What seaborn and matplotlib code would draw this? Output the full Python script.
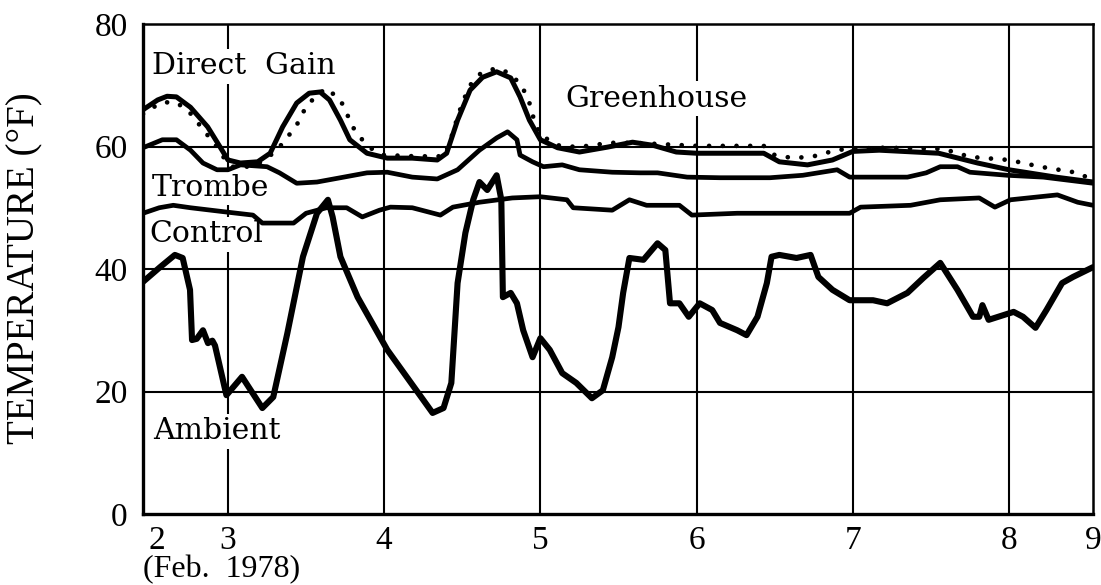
import matplotlib
matplotlib.use("Agg")
import matplotlib.pyplot as plt
import seaborn as sns

# --- Temperatures, Feb. 1978 (day of month, deg F) ---
direct_gain_day = [2.456, 2.55, 2.61, 2.67, 2.76, 2.87, 2.95, 3.0, 3.08, 3.19, 3.27, 3.35,
                   3.44, 3.52, 3.59, 3.65, 3.72, 3.78, 3.89, 4.02, 4.18, 4.34, 4.40, 4.47,
                   4.55, 4.63, 4.72, 4.81, 4.87, 4.93, 5.0, 5.11, 5.25, 5.43, 5.59, 5.72,
                   5.87, 6.0, 6.26, 6.43, 6.53, 6.71, 6.87, 7.0, 7.17, 7.55, 7.8, 8.0,
                   8.3, 8.538]
direct_gain_temp = [66.0, 67.6, 68.2, 68.1, 66.4, 63.2, 59.9, 57.8, 57.3, 57.5, 58.9, 63.2,
                    67.1, 68.7, 68.9, 67.6, 64.3, 61.1, 58.9, 58.1, 58.1, 57.8, 58.9, 64.3,
                    69.2, 71.3, 72.2, 71.2, 68.1, 64.3, 61.1, 59.8, 59.1, 59.9, 60.7, 60.2,
                    59.1, 58.9, 58.9, 58.9, 57.5, 57.0, 57.8, 59.2, 59.4, 58.9, 57.3, 56.2,
                    55.0, 54.2]

greenhouse_day = [2.456, 2.565, 2.65, 2.714, 2.78, 2.84, 2.906, 2.97, 3.03, 3.12, 3.2, 3.29,
                  3.35, 3.44, 3.50, 3.57, 3.63, 3.72, 3.76, 3.81, 3.86, 3.93, 4.0, 4.2,
                  4.38, 4.42, 4.45, 4.50, 4.55, 4.62, 4.72, 4.80, 4.88, 4.93, 4.96, 5.0,
                  5.11, 5.24, 5.45, 5.6, 6.0, 6.43, 6.5, 6.62, 6.75, 6.85, 6.95, 7.2,
                  7.58, 7.75, 8.0, 8.2, 8.44, 8.538]
greenhouse_temp = [65.3, 67.1, 67.3, 66.5, 64.9, 62.7, 60.8, 58.3, 56.7, 56.7, 57.3, 58.9,
                   60.5, 63.5, 66.5, 68.4, 69.5, 67.6, 65.4, 62.7, 61.1, 59.4, 58.6, 58.4,
                   58.4, 60.6, 63.2, 67.1, 70.0, 72.0, 72.8, 72.0, 70.0, 67.1, 64.3, 61.9,
                   60.2, 59.9, 60.6, 60.6, 60.1, 60.1, 58.6, 58.1, 58.4, 59.1, 59.6, 59.8,
                   59.6, 58.3, 57.8, 56.7, 55.7, 54.5]

trombe_day = [2.456, 2.58, 2.67, 2.76, 2.84, 2.93, 3.0, 3.08, 3.25, 3.33, 3.44, 3.57,
              3.72, 3.89, 4.02, 4.18, 4.34, 4.47, 4.61, 4.72, 4.79, 4.85, 4.87, 4.95,
              5.02, 5.14, 5.25, 5.46, 5.64, 5.75, 5.94, 6.15, 6.47, 6.68, 6.90, 6.98,
              7.17, 7.35, 7.47, 7.56, 7.67, 7.75, 7.99, 8.22, 8.538]
trombe_temp = [59.8, 61.1, 61.1, 59.4, 57.3, 56.2, 56.2, 57.0, 56.7, 55.7, 54.0, 54.2,
               54.9, 55.7, 55.8, 55.0, 54.7, 56.2, 59.4, 61.4, 62.4, 61.1, 58.6, 57.5,
               56.7, 57.0, 56.2, 55.8, 55.7, 55.7, 55.0, 54.9, 54.9, 55.3, 56.2, 55.0,
               55.0, 55.0, 55.7, 56.7, 56.7, 55.8, 55.3, 55.0, 54.0]

control_day = [2.456, 2.56, 2.65, 2.76, 2.99, 3.16, 3.22, 3.42, 3.50, 3.63, 3.76, 3.86,
               3.97, 4.04, 4.18, 4.36, 4.44, 4.61, 4.82, 5.0, 5.17, 5.21, 5.46, 5.57,
               5.68, 5.89, 5.97, 6.26, 6.58, 6.98, 7.05, 7.37, 7.56, 7.81, 7.91, 8.01,
               8.31, 8.44, 8.538]
control_temp = [49.1, 50.0, 50.4, 50.0, 49.3, 48.8, 47.5, 47.5, 49.1, 50.0, 50.0, 48.5,
                49.6, 50.1, 50.0, 48.8, 50.1, 50.9, 51.6, 51.8, 51.3, 50.0, 49.6, 51.3,
                50.4, 50.4, 48.8, 49.1, 49.1, 49.1, 50.1, 50.4, 51.3, 51.6, 50.1, 51.3,
                52.1, 50.9, 50.4]

ambient_day = [2.456, 2.565, 2.66, 2.71, 2.757, 2.77, 2.80, 2.84, 2.872, 2.90, 2.917, 2.99,
               3.09, 3.22, 3.29, 3.38, 3.48, 3.57, 3.64, 3.67, 3.72, 3.83, 4.02, 4.31,
               4.38, 4.43, 4.47, 4.52, 4.57, 4.61, 4.66, 4.72, 4.75, 4.76, 4.81, 4.85,
               4.89, 4.95, 5.0, 5.06, 5.14, 5.23, 5.33, 5.40, 5.46, 5.50, 5.53, 5.57,
               5.66, 5.75, 5.80, 5.83, 5.89, 5.95, 6.02, 6.10, 6.15, 6.26, 6.32, 6.39,
               6.45, 6.48, 6.53, 6.64, 6.73, 6.78, 6.87, 6.98, 7.13, 7.22, 7.35, 7.45,
               7.56, 7.67, 7.77, 7.81, 7.83, 7.87, 8.03, 8.09, 8.17, 8.24, 8.34, 8.41,
               8.538]
ambient_temp = [37.9, 40.3, 42.3, 41.8, 36.6, 28.4, 28.6, 30.0, 27.9, 28.3, 27.5, 19.4,
                22.4, 17.3, 19.1, 29.5, 42.0, 49.1, 51.3, 48.5, 42.0, 35.4, 26.8, 16.5,
                17.3, 21.4, 37.7, 45.9, 51.3, 54.2, 52.9, 55.3, 51.3, 35.4, 36.1, 34.4,
                30.0, 25.6, 28.7, 26.8, 23.0, 21.4, 18.9, 20.2, 25.6, 30.5, 36.1, 41.8,
                41.5, 44.2, 43.1, 34.4, 34.4, 32.2, 34.4, 33.3, 31.2, 30.0, 29.2, 32.2,
                37.7, 42.0, 42.3, 41.8, 42.3, 38.7, 36.6, 34.9, 34.9, 34.4, 36.1, 38.5,
                41.0, 36.6, 32.2, 32.2, 34.1, 31.7, 33.0, 32.2, 30.4, 33.3, 37.7, 38.7,
                40.3]

# axis and labels
day_range = (2.456, 8.538)
day_tick_pos = [2.546, 3, 4, 5, 6, 7, 8, 8.538]
day_tick_labels = ["2", "3", "4", "5", "6", "7", "8", "9"]
day_grid = [3, 4, 5, 6, 7, 8]
temp_ticks = [0, 20, 40, 60, 80]
temp_grid = [20, 40, 60]

series_labels = ["Direct  Gain", "Greenhouse", "Trombe", "Control", "Ambient"]
label_day = [2.513, 5.157, 2.513, 2.50, 2.52]
label_temp = [73.1, 67.8, 53.3, 45.7, 13.5]

sns.set_style("white")
plt.rcParams["font.family"] = ["Liberation Serif", "DejaVu Serif"]
plt.rcParams["text.color"] = "black"
plt.rcParams["xtick.color"] = "black"
plt.rcParams["ytick.color"] = "black"

fig = plt.figure(figsize=(11.01, 5.85), dpi=100)
ax = fig.add_axes([143 / 1101, 1 - 514 / 585, (1093 - 143) / 1101, 490 / 585])

# light grid drawn under everything
for d in day_grid:
    ax.axvline(d, color="black", lw=1.5, zorder=0.5)
for t in temp_grid:
    ax.axhline(t, color="black", lw=1.5, zorder=0.5)

line_kw = dict(color="black", estimator=None, sort=False, legend=False,
               solid_joinstyle="round", solid_capstyle="round")
sns.lineplot(x=direct_gain_day, y=direct_gain_temp, ax=ax, lw=3.6, zorder=3, **line_kw)
sns.lineplot(x=trombe_day, y=trombe_temp, ax=ax, lw=3.4, zorder=3, **line_kw)
sns.lineplot(x=control_day, y=control_temp, ax=ax, lw=3.4, zorder=3, **line_kw)
sns.lineplot(x=ambient_day, y=ambient_temp, ax=ax, lw=4.4, zorder=3, **line_kw)
sns.lineplot(x=greenhouse_day, y=greenhouse_temp, ax=ax, color="black", estimator=None,
             sort=False, legend=False, lw=3.4, zorder=4,
             linestyle=(0, (0.001, 2.9)), dash_capstyle="round")

# curve names, each on a white patch that masks the grid behind it
for name, d, t in zip(series_labels, label_day, label_temp):
    ax.text(d, t, name, ha="left", va="center", fontsize=21.5, color="black",
            family=["DejaVu Serif"], zorder=2,
            bbox=dict(boxstyle="square,pad=0.12", fc="white", ec="none"))

ax.set_xlim(*day_range)
ax.set_ylim(0, 80)
ax.set_xticks(day_tick_pos)
ax.set_xticklabels(day_tick_labels)
ax.set_yticks(temp_ticks)
ax.set_yticklabels([str(v) for v in temp_ticks])
ax.tick_params(axis="x", length=0, pad=8, labelsize=24, labelcolor="black")
ax.tick_params(axis="y", length=0, pad=11, labelsize=24, labelcolor="black")
ax.set_xlabel("")
ax.set_ylabel("")

for side in ["left", "bottom"]:
    ax.spines[side].set_linewidth(2.4)
for side in ["top", "right"]:
    ax.spines[side].set_linewidth(1.8)
for s in ax.spines.values():
    s.set_color("black")
    s.set_zorder(5)

fig.text(25 / 1101, 1 - 268 / 585, "TEMPERATURE (°F)", rotation=90,
         ha="center", va="center", fontsize=28, color="black")
fig.text(222 / 1101, 1 - 570 / 585, "(Feb.  1978)", ha="center", va="center",
         fontsize=23, color="black")

fig.savefig("out.png", dpi=100)
